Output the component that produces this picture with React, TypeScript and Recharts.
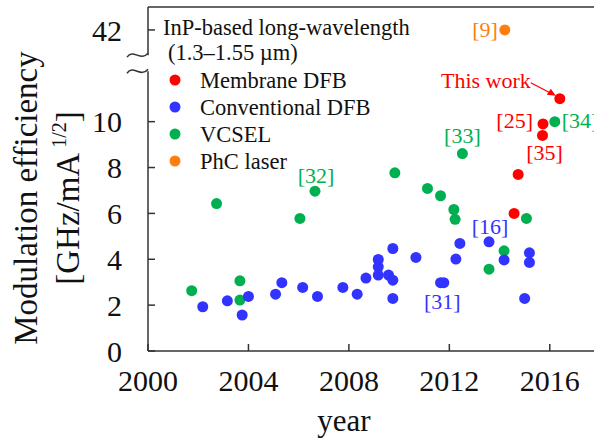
import {
  ScatterChart,
  Scatter,
  XAxis,
  YAxis,
  ReferenceLine,
  ReferenceDot,
  Legend,
} from "recharts";

const SERIF = "'Liberation Serif', 'Times New Roman', serif";
const AXIS_COLOR = "#333";

// broken y axis: anything above the break is drawn shifted down by BREAK_SHIFT
const BREAK_SHIFT = 28;
const BREAK_LOW = 12.2;
const BREAK_HIGH = 12.9;
const Y_TOP = 15;

const RED = "#ff0000";
const BLUE = "#3333ff";
const GREEN = "#00b050";
const ORANGE = "#ff7f0e";

const membraneYears = [2014.58, 2014.74, 2015.71, 2015.73, 2016.4];
const membraneValues = [6.0, 7.7, 9.4, 9.9, 11.0];

const conventionalYears = [
  2002.18, 2003.16, 2003.75, 2004.0, 2005.08, 2005.33, 2006.16, 2006.75, 2007.76,
  2008.33, 2008.68, 2009.17, 2009.17, 2009.17, 2009.58, 2009.75, 2009.75, 2009.75,
  2010.67, 2011.65, 2011.78, 2012.26, 2012.42, 2013.58, 2014.18, 2015.0, 2015.19,
  2015.19,
];
const conventionalValues = [
  1.93, 2.19, 1.57, 2.38, 2.48, 2.98, 2.77, 2.38, 2.77,
  2.48, 3.18, 3.99, 3.67, 3.31, 3.31, 3.09, 4.47, 2.29,
  4.08, 2.98, 2.98, 4.01, 4.69, 4.76, 3.97, 2.29, 4.28,
  3.86,
];

const vcselYears = [
  2001.74, 2002.73, 2003.66, 2003.66, 2006.05, 2006.65, 2009.83, 2011.13,
  2011.65, 2012.18, 2012.23, 2012.52, 2013.58, 2014.18, 2015.07, 2016.2,
];
const vcselValues = [
  2.63, 6.43, 3.06, 2.22, 5.78, 6.97, 7.77, 7.09,
  6.77, 6.17, 5.74, 8.61, 3.57, 4.37, 5.78, 10.0,
];

const phcYears = [2014.21];
const phcValues = [42];

const xTicks = [2000, 2004, 2008, 2012, 2016];
const yTickValues = [0, 2, 4, 6, 8, 10, 42];

const legendTitle = ["InP-based long-wavelength", "(1.3\u20131.55 \u00b5m)"];

// reference labels placed next to their points
const annotations = [
  { year: 2014.21, value: 42, text: "[9]", color: ORANGE, dx: -7, dy: 0, anchor: "end" },
  { year: 2015.73, value: 9.9, text: "[25]", color: RED, dx: -10, dy: -3, anchor: "end" },
  { year: 2016.2, value: 10.0, text: "[34]", color: GREEN, dx: 7, dy: -1, anchor: "start" },
  { year: 2015.71, value: 9.4, text: "[35]", color: RED, dx: 2, dy: 17, anchor: "middle" },
  { year: 2012.52, value: 8.61, text: "[33]", color: GREEN, dx: 0, dy: -18, anchor: "middle" },
  { year: 2006.65, value: 6.97, text: "[32]", color: GREEN, dx: 1, dy: -16, anchor: "middle" },
  { year: 2013.58, value: 4.76, text: "[16]", color: BLUE, dx: 1, dy: -15, anchor: "middle" },
  { year: 2011.72, value: 2.98, text: "[31]", color: BLUE, dx: 0, dy: 19, anchor: "middle" },
];

const toAxis = (v: number) => (v > 20 ? v - BREAK_SHIFT : v);
const fromAxis = (v: number) => (v > BREAK_HIGH ? v + BREAK_SHIFT : v);

const toPoints = (years: number[], values: number[]) =>
  years.map((year, i) => ({ year, value: values[i], pos: toAxis(values[i]) }));

const series = [
  { name: "Membrane DFB", color: RED, data: toPoints(membraneYears, membraneValues) },
  { name: "Conventional DFB", color: BLUE, data: toPoints(conventionalYears, conventionalValues) },
  { name: "VCSEL", color: GREEN, data: toPoints(vcselYears, vcselValues) },
  { name: "PhC laser", color: ORANGE, data: toPoints(phcYears, phcValues) },
];
// drawing order: green underneath, then blue, red, orange
const drawOrder = [2, 1, 0, 3];

const dotShape = (color: string) => (props: any) =>
  <circle cx={props.cx} cy={props.cy} r={5.5} fill={color} />;

const tilde = (props: any) => {
  const { cx, cy } = props;
  return (
    <path
      d={`M ${cx - 21} ${cy + 2} C ${cx - 15} ${cy - 7}, ${cx - 7} ${cy + 7}, ${cx} ${cy - 2}`}
      fill="none"
      stroke={AXIS_COLOR}
      strokeWidth={1.5}
    />
  );
};

function LegendBox() {
  return (
    <svg width={260} height={180} style={{ display: "block" }}>
      <g fontFamily={SERIF} fontSize={22.5} fill="#111">
        <text x={13} y={22} dominantBaseline="central">{legendTitle[0]}</text>
        <text x={18} y={47} dominantBaseline="central">{legendTitle[1]}</text>
        {series.map((s, i) => (
          <g key={s.name}>
            <circle cx={25} cy={75 + i * 27} r={5.5} fill={s.color} />
            <text x={50} y={75 + i * 27} dominantBaseline="central">{s.name}</text>
          </g>
        ))}
      </g>
    </svg>
  );
}

function YTitle({ viewBox }: any) {
  const cy = viewBox.y + viewBox.height / 2 + 19;
  return (
    <g fontFamily={SERIF} fontSize={33} fill="#111" textAnchor="middle">
      <text x={37} y={cy} transform={`rotate(-90, 37, ${cy})`}>Modulation efficiency</text>
      <text x={79} y={cy} transform={`rotate(-90, 79, ${cy})`}>
        [GHz/mA
        <tspan fontSize={20} dy={-13}>{" 1/2"}</tspan>
        <tspan dy={13}>]</tspan>
      </text>
    </g>
  );
}

function XTitle({ viewBox }: any) {
  return (
    <text x={viewBox.x + 196} y={viewBox.y + 80} fontFamily={SERIF} fontSize={31} fill="#111" textAnchor="middle">
      year
    </text>
  );
}

export default function App() {
  const tickStyle = { fontSize: 30, fontFamily: SERIF, fill: "#111" };
  return (
    <div style={{ position: "absolute", left: 0, top: 0, width: 594, height: 442, overflow: "hidden", background: "#fff" }}>
      <ScatterChart width={600} height={442} margin={{ top: 7, right: 0, bottom: 0, left: 0 }}>
        <XAxis
          type="number"
          dataKey="year"
          domain={[2000, 2018]}
          ticks={xTicks}
          allowDataOverflow
          height={91}
          stroke={AXIS_COLOR}
          strokeWidth={1.5}
          tickSize={-7}
          tickMargin={26}
          tick={tickStyle}
          label={<XTitle />}
        />
        <YAxis
          type="number"
          dataKey="pos"
          domain={[0, Y_TOP]}
          ticks={yTickValues.map(toAxis)}
          tickFormatter={(v: number) => String(fromAxis(v))}
          allowDataOverflow
          width={148}
          axisLine={false}
          stroke={AXIS_COLOR}
          strokeWidth={1.5}
          tickSize={-7}
          tickMargin={33}
          tick={tickStyle}
          label={<YTitle />}
        />
        {/* left axis drawn in two pieces around the break, plus the top frame */}
        <ReferenceLine
          segment={[{ x: 2000, y: 0 }, { x: 2000, y: BREAK_LOW }]}
          stroke={AXIS_COLOR}
          strokeWidth={1.5}
        />
        <ReferenceLine
          segment={[{ x: 2000, y: BREAK_HIGH }, { x: 2000, y: Y_TOP }]}
          stroke={AXIS_COLOR}
          strokeWidth={1.5}
        />
        <ReferenceLine y={Y_TOP} stroke={AXIS_COLOR} strokeWidth={1.5} />
        <ReferenceDot x={2000} y={BREAK_LOW} r={0} shape={tilde} />
        <ReferenceDot x={2000} y={BREAK_HIGH} r={0} shape={tilde} />

        {drawOrder.map((i) => (
          <Scatter
            key={series[i].name}
            name={series[i].name}
            data={series[i].data}
            fill={series[i].color}
            shape={dotShape(series[i].color)}
            isAnimationActive={false}
          />
        ))}

        {annotations.map((a) => (
          <ReferenceDot
            key={a.text}
            x={a.year}
            y={toAxis(a.value)}
            r={0}
            shape={(p: any) => (
              <text
                x={p.cx + a.dx}
                y={p.cy + a.dy}
                fill={a.color}
                fontFamily={SERIF}
                fontSize={22}
                textAnchor={a.anchor as any}
                dominantBaseline="central"
              >
                {a.text}
              </text>
            )}
          />
        ))}
        <ReferenceDot
          x={membraneYears[4]}
          y={membraneValues[4]}
          r={0}
          shape={(p: any) => (
            <g fill={RED}>
              <text x={p.cx - 29} y={p.cy - 18} fontFamily={SERIF} fontSize={22} textAnchor="end" dominantBaseline="central">
                This work
              </text>
              <line x1={p.cx - 29} y1={p.cy - 16} x2={p.cx - 8} y2={p.cy - 5} stroke={RED} strokeWidth={1.3} />
              <polygon points={`${p.cx - 4},${p.cy - 3} ${p.cx - 13},${p.cy - 4} ${p.cx - 9},${p.cy - 10}`} />
            </g>
          )}
        />

        <Legend
          layout="vertical"
          align="center"
          verticalAlign="middle"
          wrapperStyle={{ left: 150, top: 5, width: 260 }}
          content={() => <LegendBox />}
        />
      </ScatterChart>
    </div>
  );
}
